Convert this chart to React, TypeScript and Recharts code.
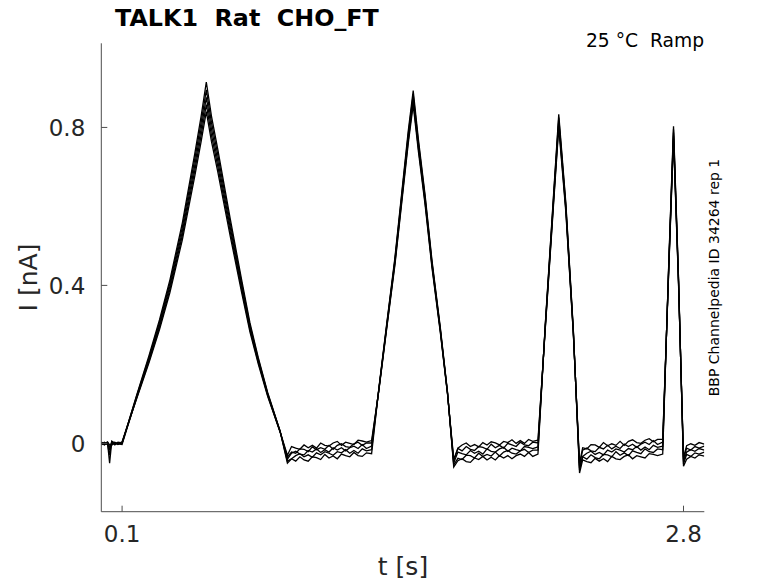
import React from "react";
import { LineChart, Line, XAxis, YAxis } from "recharts";

// time samples [s]
const TIME = [
  0, 0.015, 0.03, 0.04, 0.05, 0.065, 0.08, 0.1,
  0.17, 0.23, 0.28, 0.33, 0.39, 0.45, 0.48, 0.505, 0.53, 0.56, 0.62, 0.675, 0.715, 0.755, 0.8, 0.86, 0.895,
  0.915, 0.935, 0.955, 0.975, 0.995, 1.015, 1.035, 1.055, 1.075, 1.095,
  1.115, 1.135, 1.155, 1.175, 1.195, 1.215, 1.235, 1.255, 1.275, 1.3,
  1.335, 1.372, 1.412, 1.444, 1.476, 1.5, 1.525, 1.557, 1.59, 1.63, 1.665, 1.695,
  1.715, 1.735, 1.755, 1.775, 1.795, 1.815, 1.835, 1.855, 1.875, 1.895,
  1.915, 1.935, 1.955, 1.975, 1.995, 2.015, 2.035, 2.055, 2.075, 2.1,
  2.135, 2.175, 2.2, 2.234, 2.27, 2.3,
  2.315, 2.335, 2.355, 2.375, 2.395, 2.415, 2.435, 2.455, 2.475, 2.495,
  2.515, 2.535, 2.555, 2.575, 2.595, 2.615, 2.635, 2.655, 2.675, 2.7,
  2.728, 2.752, 2.776, 2.8,
  2.815, 2.835, 2.855, 2.875, 2.9,
];

// current traces [nA]
const TRACE_1 = [
  0.002, -0.003, 0.001, -0.05, 0.003, -0.002, 0.002, 0.0,
  0.122, 0.223, 0.313, 0.414, 0.559, 0.735, 0.828, 0.915, 0.828, 0.745, 0.569, 0.414, 0.305, 0.217, 0.129, 0.031, -0.05,
  -0.039, -0.045, -0.034, -0.042, -0.045, -0.034, -0.036, -0.041, -0.028, -0.037,
  -0.032, -0.039, -0.027, -0.031, -0.034, -0.023, -0.031, -0.033, -0.024, -0.026,
  0.14, 0.3, 0.47, 0.63, 0.79, 0.893, 0.77, 0.63, 0.465, 0.295, 0.13, -0.06,
  -0.044, -0.039, -0.046, -0.048, -0.037, -0.041, -0.033, -0.042, -0.035, -0.042,
  -0.031, -0.037, -0.031, -0.039, -0.031, -0.027, -0.033, -0.023, -0.033, -0.027,
  0.3, 0.63, 0.833, 0.61, 0.29, -0.075,
  -0.042, -0.046, -0.049, -0.038, -0.045, -0.039, -0.046, -0.033, -0.039, -0.041,
  -0.033, -0.029, -0.039, -0.031, -0.034, -0.037, -0.026, -0.028, -0.031, -0.027,
  0.44, 0.803, 0.42, -0.058,
  -0.04, -0.033, -0.037, -0.029, -0.032,
];
const TRACE_2 = [
  -0.002, 0.003, -0.002, -0.03, 0.006, 0.001, -0.003, 0.002,
  0.12, 0.218, 0.307, 0.406, 0.548, 0.721, 0.812, 0.895, 0.812, 0.731, 0.558, 0.406, 0.299, 0.213, 0.127, 0.03, -0.045,
  -0.039, -0.031, -0.026, -0.034, -0.029, -0.035, -0.024, -0.029, -0.021, -0.025,
  -0.03, -0.021, -0.024, -0.016, -0.025, -0.018, -0.025, -0.014, -0.019, -0.016,
  0.139, 0.297, 0.465, 0.624, 0.782, 0.884, 0.762, 0.624, 0.46, 0.292, 0.129, -0.055,
  -0.038, -0.041, -0.03, -0.031, -0.037, -0.025, -0.033, -0.028, -0.032, -0.022,
  -0.032, -0.022, -0.018, -0.025, -0.027, -0.019, -0.015, -0.023, -0.017, -0.017,
  0.297, 0.624, 0.825, 0.604, 0.287, -0.068,
  -0.034, -0.04, -0.029, -0.036, -0.039, -0.028, -0.029, -0.034, -0.021, -0.03,
  -0.024, -0.031, -0.019, -0.023, -0.026, -0.014, -0.021, -0.023, -0.014, -0.016,
  0.436, 0.795, 0.416, -0.052,
  -0.028, -0.033, -0.024, -0.027, -0.022,
];
const TRACE_3 = [
  0.001, -0.004, 0.002, -0.015, -0.002, 0.003, -0.001, -0.003,
  0.117, 0.214, 0.3, 0.398, 0.537, 0.706, 0.796, 0.876, 0.796, 0.716, 0.547, 0.398, 0.294, 0.209, 0.124, 0.03, -0.04,
  -0.025, -0.02, -0.027, -0.029, -0.018, -0.022, -0.014, -0.023, -0.016, -0.022,
  -0.011, -0.017, -0.011, -0.019, -0.011, -0.007, -0.013, -0.003, -0.013, -0.007,
  0.137, 0.294, 0.461, 0.617, 0.774, 0.875, 0.755, 0.617, 0.456, 0.289, 0.127, -0.05,
  -0.022, -0.026, -0.029, -0.018, -0.025, -0.02, -0.027, -0.014, -0.02, -0.022,
  -0.014, -0.01, -0.02, -0.012, -0.016, -0.019, -0.008, -0.01, -0.013, -0.009,
  0.294, 0.617, 0.816, 0.598, 0.284, -0.062,
  -0.033, -0.025, -0.02, -0.028, -0.023, -0.029, -0.017, -0.022, -0.014, -0.017,
  -0.022, -0.013, -0.016, -0.008, -0.017, -0.009, -0.016, -0.005, -0.01, -0.007,
  0.431, 0.787, 0.412, -0.046,
  -0.022, -0.016, -0.02, -0.013, -0.017,
];
const TRACE_4 = [
  -0.004, 0.001, -0.003, -0.008, 0.002, -0.004, 0.003, 0.001,
  0.115, 0.21, 0.294, 0.39, 0.527, 0.692, 0.78, 0.858, 0.78, 0.702, 0.536, 0.39, 0.288, 0.205, 0.122, 0.029, -0.035,
  -0.022, -0.025, -0.014, -0.015, -0.021, -0.009, -0.016, -0.011, -0.015, -0.005,
  -0.015, -0.005, -0.001, -0.008, -0.01, -0.001, 0.003, -0.005, 0.001, 0.001,
  0.136, 0.291, 0.456, 0.611, 0.766, 0.866, 0.747, 0.611, 0.451, 0.286, 0.126, -0.045,
  -0.013, -0.019, -0.008, -0.015, -0.018, -0.008, -0.01, -0.015, -0.002, -0.011,
  -0.005, -0.012, 0.0, -0.004, -0.008, 0.003, -0.004, -0.006, 0.003, 0.001,
  0.291, 0.611, 0.808, 0.592, 0.281, -0.056,
  -0.017, -0.012, -0.019, -0.021, -0.01, -0.014, -0.005, -0.014, -0.007, -0.013,
  -0.002, -0.008, -0.002, -0.01, -0.002, 0.003, -0.003, 0.007, -0.003, 0.003,
  0.427, 0.779, 0.407, -0.04,
  -0.012, -0.017, -0.008, -0.012, -0.007,
];
const TRACE_5 = [
  0.003, -0.001, 0.004, -0.004, -0.005, 0.002, -0.002, 0.004,
  0.113, 0.205, 0.288, 0.382, 0.516, 0.678, 0.764, 0.84, 0.764, 0.688, 0.525, 0.382, 0.282, 0.201, 0.119, 0.029, -0.03,
  -0.008, -0.012, -0.015, -0.004, -0.011, -0.005, -0.012, 0.001, -0.005, -0.007,
  0.001, 0.005, -0.005, 0.003, 0.0, -0.003, 0.008, 0.006, 0.003, 0.007,
  0.134, 0.288, 0.451, 0.605, 0.758, 0.857, 0.739, 0.605, 0.446, 0.283, 0.125, -0.04,
  -0.012, -0.004, 0.001, -0.008, -0.003, -0.009, 0.002, -0.004, 0.004, 0.001,
  -0.004, 0.005, 0.002, 0.009, 0.0, 0.007, 0.0, 0.01, 0.005, 0.008,
  0.288, 0.605, 0.8, 0.586, 0.278, -0.05,
  -0.011, -0.014, -0.003, -0.004, -0.01, 0.002, -0.006, -0.001, -0.005, 0.005,
  -0.005, 0.005, 0.009, 0.002, 0.0, 0.008, 0.012, 0.004, 0.01, 0.01,
  0.422, 0.771, 0.403, -0.035,
  -0.006, -0.001, -0.005, 0.002, -0.002,
];

const X_TICKS = [0.1, 2.8];
const Y_TICKS = [0, 0.4, 0.8];

const TRACES = [TRACE_1, TRACE_2, TRACE_3, TRACE_4, TRACE_5];
const KEYS = ["s1", "s2", "s3", "s4", "s5"];

const data = TIME.map((t, i) => {
  const row: Record<string, number> = { t };
  TRACES.forEach((tr, k) => {
    row[KEYS[k]] = tr[i];
  });
  return row;
});

const FONT = "DejaVu Sans, sans-serif";
const TXT = "#262626";

export default function App() {
  return (
    <div style={{ position: "absolute", left: 0, top: 0, width: 778, height: 583, background: "#fff" }}>
      <LineChart
        width={778}
        height={583}
        data={data}
        margin={{ top: 43.3, right: 73.7, bottom: 41.3, left: 41.3 }}
      >
        <XAxis
          dataKey="t"
          type="number"
          domain={[0, 2.9]}
          ticks={X_TICKS}
          allowDataOverflow
          height={30}
          tickSize={-6}
          tickMargin={20}
          axisLine={{ stroke: "#4d4d4d", strokeWidth: 1 }}
          tickLine={{ stroke: "#4d4d4d", strokeWidth: 1 }}
          tick={{ fill: TXT, fontSize: 23, fontFamily: FONT }}
          interval={0}
        />
        <YAxis
          type="number"
          domain={[-0.173, 1.013]}
          ticks={Y_TICKS}
          allowDataOverflow
          width={60}
          tickSize={-6}
          tickMargin={22}
          axisLine={{ stroke: "#4d4d4d", strokeWidth: 1 }}
          tickLine={{ stroke: "#4d4d4d", strokeWidth: 1 }}
          tick={{ fill: TXT, fontSize: 23, fontFamily: FONT }}
          tickFormatter={(v: number) => (v === 0 ? "0" : String(v))}
          interval={0}
        />
        {KEYS.map((k) => (
          <Line
            key={k}
            dataKey={k}
            type="linear"
            stroke="#000"
            strokeWidth={1.3}
            dot={false}
            activeDot={false}
            isAnimationActive={false}
          />
        ))}
      </LineChart>
      <svg
        width={778}
        height={583}
        style={{ position: "absolute", left: 0, top: 0, pointerEvents: "none" }}
      >
        <text x={115} y={26} fontFamily={FONT} fontWeight="bold" fontSize={23.8} fill="#000" style={{ whiteSpace: "pre" }}>
          {"TALK1  Rat  CHO_FT"}
        </text>
        <text x={704} y={46.7} textAnchor="end" fontFamily={FONT} fontSize={18.7} fill="#000" style={{ whiteSpace: "pre" }}>
          {"25 °C  Ramp"}
        </text>
        <text
          transform="translate(719.4,277.5) rotate(-90)"
          textAnchor="middle"
          fontFamily={FONT}
          fontSize={14}
          fill="#000"
        >
          BBP Channelpedia ID 34264 rep 1
        </text>
        <text
          transform="translate(36.7,277.5) rotate(-90)"
          textAnchor="middle"
          fontFamily={FONT}
          fontSize={25}
          fill={TXT}
        >
          I [nA]
        </text>
        <text x={403} y={575} textAnchor="middle" fontFamily={FONT} fontSize={25} fill={TXT}>
          t [s]
        </text>
      </svg>
    </div>
  );
}
